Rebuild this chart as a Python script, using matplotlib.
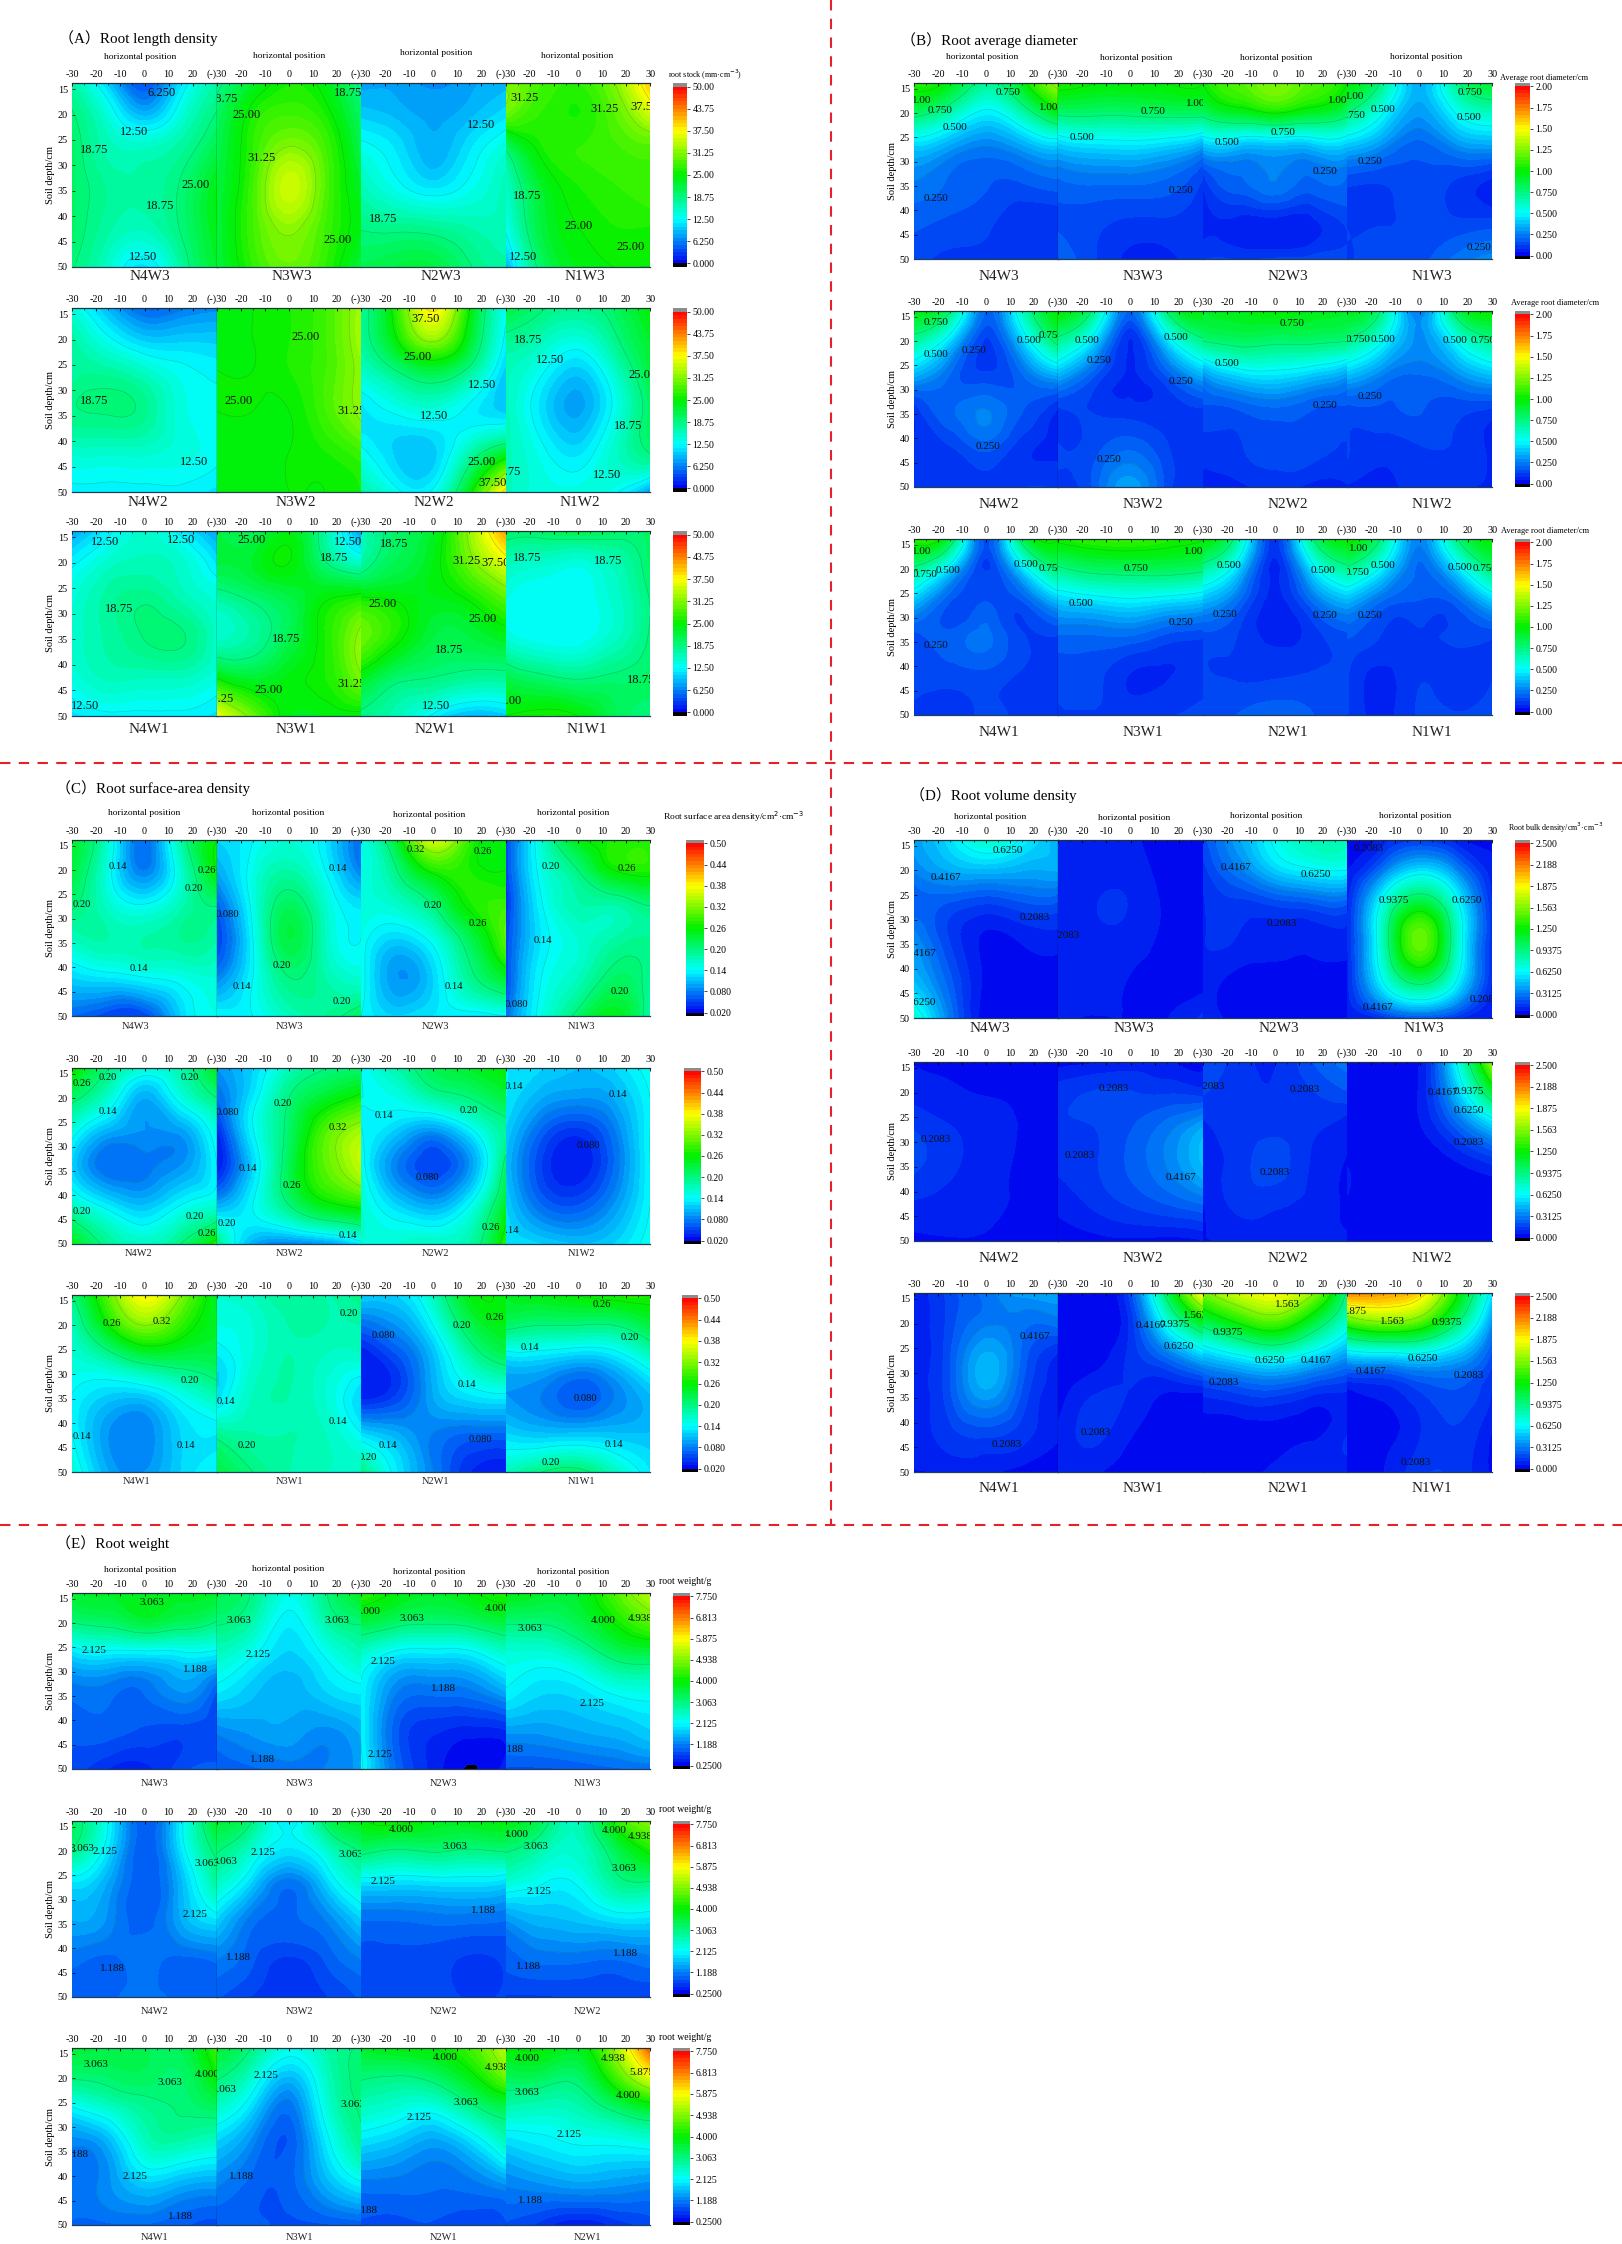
import matplotlib
matplotlib.use("Agg")
import matplotlib.pyplot as plt
import matplotlib.tri as mtri
import numpy as np

from matplotlib.colors import LinearSegmentedColormap
from matplotlib.lines import Line2D

plt.rcParams['font.family'] = ['Liberation Serif', 'Noto Sans CJK SC', 'DejaVu Sans']

W, H = 1622, 2244

# sample positions of the fields
grid_x = [-30, -15, 0, 15, 30]
grid_y = [14, 20, 26, 34, 42, 50]

# (A) root length density, order N4 N3 N2 N1
rld_w3 = [
    [[17,10,4,11,17],[19,14,9,14,19],[20,16,15,17,21],[20,17.5,17,19,24],[20,17,16,19,24],[19,15,11,17,23]],
    [[18,23,26,24,18],[20,26,28,26,20],[21,27,31,28,21],[22,28,35,29,23],[22,28,32,28,24],[22,27,30,27,22]],
    [[8,8,7,8,9],[10,9,8,9,11],[13,11,8.5,11,14],[16,13,11,13,16],[18.5,18,17.5,16.5,16],[21,22,22,19,17]],
    [[31,28,27,31,40],[30,27,26,29,35],[20,26,27,28,29],[15,23,26,27,28],[13,22,25,26,26],[8,20,24,25,25]],
]
rld_w2 = [
    [[14,9,5,6,7],[17,13,10,10,10],[17,17,15,13,12],[18.5,19,18,14,13],[15,15,15,14,13],[12,12,12,12,11]],
    [[24,25,26,28,33],[24,25,26,28,33],[25,25,26,28,32],[25,25,25,28,32],[24,24,25,26,28],[24,24,25,25,26]],
    [[17,27,38,25,13],[17,25,32,23,12],[15,19,22,18,10],[11,13,14,12,10],[13,10,10,16,22],[17,13,13,24,39]],
    [[22,19,18,20,25],[18,16,14,18,23],[16,13,10,15,22],[16,11,8,13,20],[16,13,11,15,19],[16,14,14,13,7]],
]
rld_w1 = [
    [[8,12,15,12,8],[12,15,16,15,11],[14,17,18,16,14],[15,17,19,19,15],[14,16,16,16,14],[11,12,12,12,11]],
    [[22,21,24,17,8],[22,23,25,19,15],[18,20,22,24,25],[15,17,21,26,32],[24,22,24,26,31],[37,30,24,24,24]],
    [[16,20,23,32,42],[17,21,24,30,36],[24,24,24,26,30],[30,26,22,22,24],[24,20,19,18,18],[18,16,12,9,10]],
    [[20,20,21,20,20],[16,15,14,16,20],[14,12.5,12.5,15,19],[14,12.5,12.5,15,19],[21,19,18,19,20],[25,26,25,21,19]],
]

# (B) root average diameter
rad_w3 = [
    [[1.05,.95,.7,.95,1.3],[.8,.65,.47,.65,.95],[.45,.35,.27,.35,.45],[.25,.2,.17,.17,.2],[.18,.16,.14,.09,.09],[.15,.11,.11,.09,.09]],
    [[1.05,1,1,1,1],[.78,.78,.78,.8,.8],[.42,.47,.48,.45,.35],[.2,.22,.22,.2,.12],[.16,.14,.12,.12,.1],[.2,.13,.07,.07,.12]],
    [[1,1.15,1.25,1.15,1],[.8,.92,1,.92,.8],[.42,.42,.42,.42,.42],[.1,.2,.25,.2,.2],[.07,.07,.07,.07,.14],[.12,.12,.13,.14,.14]],
    [[1,.7,.35,.7,.9],[.75,.5,.3,.5,.62],[.42,.3,.2,.3,.35],[.14,.13,.16,.12,.07],[.12,.12,.14,.13,.13],[.12,.14,.15,.22,.27]],
]
rad_w2 = [
    [[.95,.75,.2,.6,1],[.68,.42,.12,.4,.8],[.4,.22,.12,.22,.4],[.1,.2,.25,.17,.08],[.1,.12,.18,.1,.07],[.1,.12,.1,.12,.12]],
    [[1,.7,.2,.75,.98],[.7,.42,.08,.42,.72],[.4,.2,.08,.2,.4],[.12,.12,.1,.1,.12],[.13,.15,.2,.13,.12],[.1,.18,.32,.15,.1]],
    [[.9,.95,1,.95,.9],[.75,.8,.78,.78,.75],[.33,.48,.5,.45,.35],[.16,.17,.2,.17,.16],[.1,.12,.14,.14,.12],[.07,.07,.1,.07,.08]],
    [[.95,.7,.25,.8,1],[.72,.5,.28,.5,.72],[.42,.28,.22,.3,.42],[.15,.16,.17,.14,.12],[.13,.1,.12,.12,.07],[.08,.07,.1,.09,.08]],
]
rad_w1 = [
    [[1.05,.85,.15,.8,1],[.72,.42,.12,.42,.78],[.4,.18,.16,.18,.4],[.15,.18,.22,.13,.12],[.13,.14,.15,.12,.11],[.12,.11,.13,.12,.12]],
    [[1.03,1.08,1.1,1.05,1],[.72,.8,.82,.82,.78],[.42,.47,.5,.47,.42],[.2,.2,.2,.15,.13],[.14,.14,.08,.08,.1],[.12,.12,.12,.12,.14]],
    [[1,.65,.1,.7,1],[.68,.4,.07,.42,.7],[.38,.22,.07,.22,.38],[.15,.12,.07,.1,.15],[.13,.12,.12,.13,.13],[.13,.17,.2,.17,.13]],
    [[1.05,.7,.25,.72,1],[.72,.45,.2,.42,.78],[.38,.22,.17,.2,.42],[.17,.12,.12,.13,.13],[.13,.07,.12,.1,.12],[.13,.07,.13,.13,.15]],
]

# (C) root surface-area density
rsa_w3 = [
    [[.24,.16,.07,.18,.26],[.23,.15,.08,.16,.26],[.21,.16,.13,.17,.21],[.17,.18,.18,.19,.18],[.12,.13,.14,.15,.16],[.07,.05,.05,.12,.15]],
    [[.12,.14,.16,.13,.07],[.1,.15,.18,.14,.08],[.07,.15,.21,.16,.12],[.05,.14,.23,.17,.14],[.08,.14,.2,.18,.16],[.14,.14,.17,.19,.22]],
    [[.15,.24,.36,.28,.26],[.15,.2,.27,.27,.26],[.16,.17,.21,.27,.28],[.15,.12,.15,.22,.3],[.15,.09,.12,.19,.24],[.14,.12,.13,.13,.14]],
    [[.05,.16,.25,.27,.27],[.05,.15,.2,.26,.27],[.04,.14,.18,.19,.21],[.05,.13,.16,.18,.19],[.05,.14,.17,.21,.19],[.07,.15,.21,.25,.18]],
]
rsa_w2 = [
    [[.27,.2,.16,.18,.25],[.21,.16,.1,.15,.2],[.16,.11,.09,.1,.16],[.12,.07,.075,.09,.14],[.17,.13,.11,.14,.16],[.25,.19,.17,.2,.28]],
    [[.09,.12,.17,.2,.21],[.07,.13,.2,.24,.27],[.04,.14,.21,.29,.33],[.03,.12,.22,.3,.35],[.1,.14,.2,.25,.27],[.2,.1,.08,.09,.13]],
    [[.14,.18,.22,.24,.26],[.14,.15,.18,.2,.23],[.14,.12,.1,.14,.19],[.15,.08,.05,.09,.21],[.16,.12,.1,.14,.24],[.16,.16,.17,.18,.28]],
    [[.13,.12,.11,.12,.15],[.13,.1,.09,.1,.14],[.12,.07,.05,.08,.14],[.11,.05,.03,.07,.14],[.12,.07,.06,.09,.14],[.13,.12,.11,.12,.15]],
]
rsa_w1 = [
    [[.2,.3,.38,.32,.24],[.17,.26,.32,.28,.24],[.16,.19,.23,.23,.23],[.14,.12,.12,.15,.18],[.14,.09,.08,.12,.13],[.16,.1,.09,.12,.14]],
    [[.16,.17,.19,.18,.2],[.15,.16,.18,.18,.18],[.13,.16,.18,.17,.17],[.12,.17,.18,.16,.12],[.19,.18,.18,.17,.14],[.23,.2,.18,.17,.17]],
    [[.12,.12,.17,.25,.25],[.07,.09,.14,.22,.25],[.03,.06,.11,.18,.22],[.03,.05,.1,.13,.14],[.12,.1,.08,.07,.07],[.2,.13,.08,.04,.03]],
    [[.24,.25,.26,.27,.27],[.21,.2,.2,.2,.23],[.13,.13,.12,.13,.17],[.09,.08,.06,.08,.11],[.12,.11,.11,.11,.11],[.17,.2,.21,.17,.13]],
]

# (D) root volume density
rvd_w3 = [
    [[.38,.55,.75,.6,.42],[.32,.42,.45,.42,.42],[.22,.22,.18,.22,.22],[.35,.15,.04,.06,.08],[.45,.22,.04,.03,.02],[.75,.3,.02,.02,.02]],
    [[.06,.06,.06,.03,.03],[.07,.08,.08,.03,.03],[.07,.1,.1,.04,.04],[.08,.09,.08,.04,.04],[.06,.07,.05,.04,.03],[.06,.05,.05,.05,.12]],
    [[.18,.4,.65,.8,.8],[.13,.3,.5,.6,.62],[.1,.15,.2,.24,.25],[.1,.1,.08,.07,.08],[.08,.03,.02,.02,.02],[.08,.03,.02,.02,.02]],
    [[.05,.08,.15,.08,.05],[.05,.3,.55,.35,.07],[.08,.65,1.05,.65,.1],[.1,.8,1.5,.8,.12],[.08,.65,1.05,.65,.1],[.05,.12,.2,.12,.05]],
]
rvd_w2 = [
    [[.05,.05,.05,.05,.05],[.08,.06,.05,.05,.05],[.14,.1,.07,.05,.05],[.17,.12,.07,.05,.05],[.1,.08,.06,.05,.05],[.04,.05,.05,.05,.05]],
    [[.03,.05,.08,.06,.04],[.13,.16,.16,.15,.13],[.15,.16,.2,.27,.38],[.12,.15,.22,.32,.48],[.07,.12,.17,.22,.28],[.02,.03,.04,.03,.05]],
    [[.2,.13,.1,.2,.28],[.16,.12,.11,.15,.2],[.1,.12,.13,.12,.08],[.08,.13,.18,.1,.05],[.05,.12,.12,.09,.04],[.05,.06,.08,.07,.06]],
    [[.03,.03,.05,.6,1.6],[.03,.03,.06,.45,1.1],[.03,.03,.05,.25,.55],[.05,.03,.02,.05,.12],[.05,.03,.02,.02,.02],[.03,.02,.02,.02,.02]],
]
rvd_w1 = [
    [[.07,.18,.28,.38,.4],[.07,.18,.3,.28,.28],[.08,.2,.42,.25,.1],[.08,.2,.4,.2,.08],[.07,.14,.18,.13,.06],[.05,.06,.06,.03,.02]],
    [[.01,.01,.18,1,1.9],[.01,.01,.12,.65,1.15],[.01,.02,.12,.3,.55],[.02,.1,.1,.05,.05],[.06,.12,.06,.02,.02],[.06,.06,.02,.02,.02]],
    [[1.5,1.75,1.85,1.6,.9],[1,1.25,1.4,1.1,.7],[.5,.65,.75,.6,.4],[.12,.16,.18,.12,.1],[.03,.03,.04,.04,.1],[.05,.04,.06,.08,.08]],
    [[2.15,2.1,1.95,1.3,.55],[1.35,1.5,1.4,.95,.35],[.55,.6,.62,.48,.2],[.03,.07,.15,.2,.1],[.03,.03,.1,.15,.05],[.04,.05,.14,.14,.04]],
]

# (E) root weight
rw_w3 = [
    [[3.6,3.7,3.8,3.7,3.7],[3.05,3.2,3.5,3.3,3],[1.9,2.05,2.05,2.1,2.05],[1.1,1.1,1.05,1.35,.85],[.9,.95,.85,.8,.75],[.85,.55,.5,.8,.9]],
    [[3.4,3,2.3,3,3.8],[3.1,2.7,2,2.7,3.1],[2.6,2.2,1.8,2.2,2.7],[2,1.7,1.55,1.8,2],[1.25,1.4,1.45,1.3,1.55],[.9,1,1.1,1.2,1.4]],
    [[4.3,3.9,3.7,3.9,4.2],[3.5,3.2,3.1,3.2,3.5],[2.5,2.05,2,2.05,2.5],[2.1,1.2,1.1,1.15,1.5],[2.1,.9,.6,.5,.55],[2.2,1,.5,.24,.5]],
    [[3.9,3.7,3.7,4.5,5.3],[3.1,3.1,3.4,4,4.6],[2.4,2.4,2.7,3.3,3.5],[2.1,1.85,1.9,2.2,2.3],[1.4,1.4,1.5,1.6,1.8],[.85,.85,.9,1,1.05]],
]
rw_w2 = [
    [[3.3,2.1,.9,2,3.8],[3,1.9,.9,1.9,3.2],[2,1.5,.9,1.6,2.9],[1.5,1.3,.95,1.5,1.95],[1.1,1,1.1,1,1.1],[1,1,1.1,1,1]],
    [[3.6,3,2,3.2,3.8],[3.1,2.4,1.9,2.4,3.1],[2.6,1.8,1.15,1.8,2.6],[1.8,1.1,1,1.2,1.8],[1.2,.9,.7,.9,1.2],[.9,.7,.6,.7,.9]],
    [[3.9,4.1,3.8,3.8,3.9],[3.2,3,3.1,3,3.1],[2,1.95,2,2,1.9],[1.05,1.05,1.1,1.1,1.05],[.85,.85,.8,.7,.75],[.85,.8,.8,.7,.75]],
    [[3.9,3.3,2.6,4.1,4.9],[3.1,2.7,2.5,3.3,4.1],[2.5,2.2,2.2,2.9,3.1],[1.35,1.6,1.7,1.9,1.9],[.95,1.1,1.1,1.05,1.15],[.7,.7,.75,.75,.7]],
]
rw_w1 = [
    [[3.6,3.5,3.4,3.4,4.4],[3.1,3.2,3.3,3.2,4],[2.1,2.5,2.9,3.1,3.3],[1.2,1.5,2.5,2.6,2.4],[1.1,1.3,1.7,1.5,1.4],[1,1,1,.9,.8]],
    [[3.6,3,2.3,2.7,3.1],[3.1,2.4,1.6,2.5,3.2],[2.5,1.8,1.1,2.3,3.1],[1.7,1.2,.9,1.9,2.9],[1.2,.95,.95,1.5,2],[.9,.9,.85,.85,.9]],
    [[3.7,3.9,4,4.4,5.3],[3.1,3,3.2,3.8,4.7],[2.6,2.4,2.3,2.9,3.4],[1.8,1.6,1.35,1.7,2.5],[1.1,1.1,1.05,1.1,1.3],[.85,.8,.85,.75,.85]],
    [[3.9,4,3.8,5,7],[3.3,3.3,3.2,4.3,5.6],[2.7,2.6,2.7,3.2,3.7],[1.75,1.95,2.1,2.1,2.2],[1.2,1.3,1.4,1.35,1.25],[.85,.65,.4,.6,.8]],
]

# colour bar scales
rld_ticks = ["0.000", "6.250", "12.50", "18.75", "25.00", "31.25", "37.50", "43.75", "50.00"]
rad_ticks = ["0.00", "0.250", "0.500", "0.750", "1.00", "1.25", "1.50", "1.75", "2.00"]
rsa_ticks = ["0.020", "0.080", "0.14", "0.20", "0.26", "0.32", "0.38", "0.44", "0.50"]
rvd_ticks = ["0.000", "0.3125", "0.6250", "0.9375", "1.250", "1.563", "1.875", "2.188", "2.500"]
rw_ticks = ["0.2500", "1.188", "2.125", "3.063", "4.000", "4.938", "5.875", "6.813", "7.750"]

# contour labels: x, depth, text
rld_lab_w3 = [
    [(7,15.7,"6.250"),(-4.4,23.4,"12.50"),(-20.7,27,"18.75"),(21,33.8,"25.00"),(6.4,38,"18.75"),(-.5,48,"12.50")],
    [(-27,17,"18.75"),(-17.7,20,"25.00"),(-11.6,28.5,"31.25"),(20.4,44.7,"25.00"),(24.7,15.7,"18.75")],
    [(20,22,"12.50"),(-21,40.5,"18.75")],
    [(-22,16.7,"31.25"),(11,19,"31.25"),(27.6,18.5,"37.50"),(-21,36,"18.75"),(.5,42,"25.00"),(22,46,"25.00"),(-22.6,48,"12.50")],
]
rld_lab_w2 = [
    [(-20.7,32,"18.75"),(20.4,44,"12.50")],
    [(7,19.5,"25.00"),(-21,32,"25.00"),(26,34,"31.25")],
    [(-3,16,"37.50"),(-6.7,23.4,"25.00"),(20.4,29,"12.50"),(.5,35,"12.50"),(20,44,"25.00"),(24.5,48.3,"37.50")],
    [(-20.5,20,"18.75"),(-11.6,24,"12.50"),(27,27,"25.00"),(21,37,"18.75"),(-29.5,46,"18.75"),(12,46.7,"12.50")],
]
rld_lab_w1 = [
    [(-16.4,16,"12.50"),(15,15.6,"12.50"),(-10.7,29,"18.75"),(-24.5,48,"12.50")],
    [(-15.6,15.6,"25.00"),(24.7,16,"12.50"),(19,19,"18.75"),(-1.4,35,"18.75"),(26,43.8,"31.25"),(-29,46.6,"31.25"),(-8.6,45,"25.00")],
    [(-16.4,16.3,"18.75"),(14,19.6,"31.25"),(26,20,"37.50"),(-21,28,"25.00"),(20.4,31,"25.00"),(6.4,37,"18.75"),(1,48,"12.50")],
    [(-21,19,"18.75"),(12.8,19.6,"18.75"),(26.5,43,"18.75"),(-29,47,"25.00")],
]
rad_lab_w3 = [
    [(-26.6,17.5,"1.00"),(-19,19.4,"0.750"),(9,15.8,"0.750"),(-12.8,23,"0.500"),(26,18.8,"1.00"),(-21,37.6,"0.250")],
    [(9.5,19.7,"0.750"),(-20,25,"0.500"),(27,18,"1.00"),(21,36,"0.250")],
    [(3.4,23.9,"0.750"),(-20,26,"0.500"),(26,17.5,"1.00"),(21,32,"0.250")],
    [(-27,16.6,"1.00"),(-15.3,19.3,"0.500"),(-27.5,20.5,"0.750"),(-20.6,29.9,"0.250"),(21,15.7,"0.750"),(20.4,20.8,"0.500"),(24.5,47.6,"0.250")],
]
rad_lab_w2 = [
    [(-21,16.2,"0.750"),(-21,22.8,"0.500"),(-5,22,"0.250"),(18,19.8,"0.500"),(27,18.8,"0.750"),(1,41.6,"0.250")],
    [(-18,19.8,"0.500"),(-13,24,"0.250"),(19,19.2,"0.500"),(21,28.4,"0.250"),(-9,44.4,"0.250")],
    [(7,16.4,"0.750"),(-20,24.7,"0.500"),(21,33.3,"0.250")],
    [(-25.5,19.7,"0.750"),(-15,19.7,"0.500"),(-20.6,31.3,"0.250"),(14.5,19.8,"0.500"),(26.5,19.8,"0.750")],
]
rad_lab_w1 = [
    [(-26.6,16.4,"1.00"),(-25.5,21,"0.750"),(-16,20.3,"0.500"),(-21,35.8,"0.250"),(16.6,19,"0.500"),(27,19.8,"0.750")],
    [(26,16.3,"1.00"),(2.5,19.9,"0.750"),(-20.4,27,"0.500"),(21,30.9,"0.250")],
    [(-19,19.3,"0.500"),(20,20.2,"0.500"),(-21,29.3,"0.250"),(21,29.5,"0.250")],
    [(-25,15.7,"1.00"),(-26,20.7,"0.750"),(-15,19.3,"0.500"),(-20.6,29.6,"0.250"),(16.6,19.7,"0.500"),(27,19.9,"0.750")],
]
rsa_lab_w3 = [
    [(-11,19.3,"0.14"),(26,20.1,"0.26"),(20.3,23.8,"0.20"),(-26,27,"0.20"),(-2.3,40.3,"0.14")],
    [(20.5,19.7,"0.14"),(-25.5,29.2,"0.080"),(-3,39.7,"0.20"),(-19.7,44,"0.14"),(22,47,"0.20")],
    [(-7.4,15.7,"0.32"),(20.5,16.2,"0.26"),(0,27.3,"0.20"),(18.6,31,"0.26"),(8.5,44,"0.14")],
    [(-11.3,19.3,"0.20"),(20.5,19.7,"0.26"),(-14.6,34.5,"0.14"),(17.3,45,"0.20"),(-25.6,47.6,"0.080")],
]
rsa_lab_w2 = [
    [(-26,17,"0.26"),(-15,15.8,"0.20"),(18.8,15.8,"0.20"),(-15,22.8,"0.14"),(-26,43.4,"0.20"),(20.8,44.4,"0.20"),(26,47.8,"0.26")],
    [(-25.6,22.9,"0.080"),(-2.6,21.2,"0.20"),(20.5,26,"0.32"),(-17,34.5,"0.14"),(1,37.9,"0.26"),(-26,45.7,"0.20"),(24.5,48.3,"0.14")],
    [(-20.5,23.6,"0.14"),(14.6,22.5,"0.20"),(-2.3,36.3,"0.080"),(24,46.6,"0.26")],
    [(-26.7,17.6,"0.14"),(16.8,19.3,"0.14"),(4.5,29.8,"0.080"),(-28,47.3,"0.14")],
]
rsa_lab_w1 = [
    [(-13.3,19.7,"0.26"),(7,19.3,"0.32"),(18.6,31.2,"0.20"),(-26,42.7,"0.14"),(17,44.6,"0.14")],
    [(24.8,17.5,"0.20"),(-26.3,35.6,"0.14"),(20.5,39.6,"0.14"),(-17.5,44.6,"0.20")],
    [(25.6,18.3,"0.26"),(-20.5,22,"0.080"),(12,20,"0.20"),(14,32.2,"0.14"),(19.7,43.3,"0.080"),(-18.8,44.5,"0.14"),(-27,47,"0.20")],
    [(10,15.7,"0.26"),(21.6,22.5,"0.20"),(-20,24.6,"0.14"),(3,35,"0.080"),(15,44.3,"0.14"),(-11,48,"0.20")],
]
rvd_lab_w3 = [
    [(9,16,"0.6250"),(-16.6,21.4,"0.4167"),(20.4,29.5,"0.2083"),(-27,36.8,"0.4167"),(-27,46.8,"0.6250")],
    [(-27,33.2,"0.2083")],
    [(-16.3,19.3,"0.4167"),(17,20.8,"0.6250"),(3,30.8,"0.2083")],
    [(-21,15.6,"0.2083"),(-10.8,26.2,"0.9375"),(19.4,26.2,"0.6250"),(-17,47.8,"0.4167"),(27,46.3,"0.2083")],
]
rvd_lab_w2 = [
    [(-21,29.4,"0.2083")],
    [(-6.8,19.1,"0.2083"),(-20.9,32.7,"0.2083"),(20.8,37.1,"0.4167")],
    [(-27,18.8,"0.2083"),(12.5,19.3,"0.2083"),(-.2,36.1,"0.2083")],
    [(9.8,20,"0.4167"),(20.4,19.7,"0.9375"),(20.4,23.6,"0.6250"),(20.4,30,"0.2083")],
]
rvd_lab_w1 = [
    [(20.4,22.6,"0.4167"),(8.5,44.5,"0.2083")],
    [(8.3,20.4,"0.4167"),(18.5,20.2,"0.9375"),(27,18.4,"1.563"),(20,24.6,"0.6250"),(-14.5,42,"0.2083")],
    [(5.3,16.2,"1.563"),(-19.8,21.7,"0.9375"),(-2.1,27.5,"0.6250"),(17,27.5,"0.4167"),(-21.4,32,"0.2083")],
    [(-27,17.6,"1.875"),(-11,19.5,"1.563"),(11.3,19.7,"0.9375"),(1.3,27,"0.6250"),(-20,29.7,"0.4167"),(20.4,30.4,"0.2083"),(-1.5,48,"0.2083")],
]
rw_lab_w3 = [
    [(3,15.7,"3.063"),(-21,25.6,"2.125"),(21,29.6,"1.188")],
    [(-21,19.5,"3.063"),(20,19.5,"3.063"),(-13,26.5,"2.125"),(-11,48,"1.188")],
    [(-27,17.7,"4.000"),(-9,19,"3.063"),(26.5,17,"4.000"),(-21,27.8,"2.125"),(4.3,33.5,"1.188"),(-22.3,47,"2.125")],
    [(-20,21,"3.063"),(10.6,19.5,"4.000"),(26,19,"4.938"),(6,36.5,"2.125"),(-27.5,46,"1.188")],
]
rw_lab_w2 = [
    [(-26,19.5,"3.063"),(-16.4,20,"2.125"),(26,22.5,"3.063"),(20.8,33,"2.125"),(-13.3,44.2,"1.188")],
    [(-26.5,22.2,"3.063"),(-10.7,20.2,"2.125"),(26,20.6,"3.063"),(-21,41.8,"1.188")],
    [(-13.3,15.5,"4.000"),(8.9,19,"3.063"),(-21,26.2,"2.125"),(20.8,32.2,"1.188")],
    [(-25.6,16.6,"4.000"),(-17.2,19,"3.063"),(15,15.7,"4.000"),(26,17,"4.938"),(19,23.6,"3.063"),(-16,28.2,"2.125"),(20,41,"1.188"),(-20.5,43.7,"1.188")],
]
rw_lab_w1 = [
    [(-20,17.2,"3.063"),(26,19.2,"4.000"),(10.4,20.8,"3.063"),(-28,35.6,"1.188"),(-3.8,40,"2.125"),(15,48.2,"1.188")],
    [(-27,22.3,"3.063"),(-9.6,19.4,"2.125"),(26.5,25.3,"3.063"),(-20,40,"1.188")],
    [(5,15.8,"4.000"),(26.5,17.7,"4.938"),(13.5,25,"3.063"),(-6,28,"2.125"),(-28,47,"1.188")],
    [(-20.8,16,"4.000"),(14.6,16,"4.938"),(26.5,18.9,"5.875"),(-21,23,"3.063"),(21,23.5,"4.000"),(-3.6,31.5,"2.125"),(-19.5,45,"1.188")],
]

cmap = LinearSegmentedColormap.from_list("origin_rainbow", ["#0000f0", "#00ffff", "#00f000", "#ffff00", "#ff0000"], N=256)
cmap.set_under("black")
cmap.set_over("#8c8c8c")

xs, ys = np.meshgrid(grid_x, grid_y)
triang = mtri.Triangulation(xs.ravel(), ys.ravel())
refiner = mtri.UniformTriRefiner(triang)


def px_axes(left, top, right, bottom):
    return plt.axes([left / W, 1 - bottom / H, (right - left) / W, (bottom - top) / H])


def put_text(x, y, s, **kw):
    plt.gcf().text(x / W, 1 - y / H, s, ha=kw.pop("ha", "center"), va=kw.pop("va", "center"), **kw)


def draw_row(grids, labels, ticks, edges, top, bottom, cb_x, names, name_y, name_x, name_size, lab_size):
    """One row of four fields side by side, plus its colour bar."""
    major = np.array([float(t) for t in ticks])
    fine = np.linspace(major[0], major[-1], 49)
    mappable = None

    for i, grid in enumerate(grids):
        ax = px_axes(edges[i], top, edges[i + 1], bottom)
        raw = np.array(grid, dtype=float)
        interp = mtri.CubicTriInterpolator(triang, raw.ravel(), kind="min_E")
        tri_f, z_f = refiner.refine_field(raw.ravel(), triinterpolator=interp, subdiv=4)
        z_f = np.clip(z_f, raw.min(), None)
        mappable = ax.tricontourf(tri_f, z_f, levels=fine, cmap=cmap, extend="both")
        ax.tricontour(tri_f, z_f, levels=major, colors="#1f5a3c", linewidths=0.4, alpha=0.35)

        ax.set_xlim(-30, 30)
        ax.set_ylim(50, 13.8)
        ax.set_xticks(np.arange(-30, 31, 10))
        tick_text = ["-30", "-20", "-10", "0", "10", "20", ""]
        if i > 0:
            tick_text[0] = "(-)30"
        if i == 3:
            tick_text[-1] = "30"
        ax.set_xticklabels(tick_text, fontsize=7.3)
        ax.xaxis.tick_top()
        ax.tick_params(axis="x", direction="in", length=2.5, width=0.6, pad=3)
        ax.set_xticks(np.arange(-25, 30, 10), minor=True)
        ax.tick_params(axis="x", which="minor", direction="in", length=1.5, width=0.4)
        if i == 0:
            ax.set_yticks(np.arange(15, 51, 5))
            ax.tick_params(axis="y", direction="in", length=2, width=0.5, labelsize=7.3, pad=3)
        else:
            ax.set_yticks([])

        for side in ["left", "right"]:
            ax.spines[side].set_visible(False)
        ax.spines["top"].set_linewidth(0.9)
        ax.spines["top"].set_color("#20303a")
        ax.spines["bottom"].set_linewidth(0.9)
        ax.spines["bottom"].set_color("#20405a")
        if i == 0:
            ax.spines["right"].set_visible(True)
            ax.spines["right"].set_linewidth(0.9)

        for x, y, s in labels[i]:
            ax.text(x, y, s, fontsize=lab_size, ha="center", va="center", color="#101010", clip_on=True)

        put_text(name_x[i], name_y, names[i], fontsize=name_size, color="#222222")

    cax = px_axes(cb_x[0], top, cb_x[1], bottom)
    cb = plt.gcf().colorbar(mappable, cax=cax, extend="both", extendfrac=0.02, extendrect=True)
    cb.set_ticks(major, labels=ticks)
    cb.minorticks_off()
    cb.outline.set_visible(False)
    cb.ax.tick_params(length=2, width=0.5, labelsize=7, pad=2)

    put_text(edges[0] - 21, (top + bottom) / 2, "Soil depth/cm", rotation=90, fontsize=7.5)


fig = plt.figure(figsize=(W / 100, H / 100), dpi=100)

left_edges = [72, 217, 361, 505.5, 650]
right_edges = [914, 1058, 1203, 1347, 1492]


def row_names(row, last="N1"):
    return [f"N4{row}", f"N3{row}", f"N2{row}", f"{last}{row}"]


# panel A
a_x = [150, 292, 441, 585]
draw_row(rld_w3, rld_lab_w3, rld_ticks, left_edges, 83, 267, (673, 687), row_names("W3"), 277, a_x, 11, 9)
draw_row(rld_w2, rld_lab_w2, rld_ticks, left_edges, 308, 492, (673, 687), row_names("W2"), 503, [148, 296, 434, 580], 11, 9)
draw_row(rld_w1, rld_lab_w1, rld_ticks, left_edges, 531, 716, (673, 687), row_names("W1"), 729, [149, 296, 435, 587], 11, 9)

# panel B
b_x = [999, 1143, 1288, 1432]
draw_row(rad_w3, rad_lab_w3, rad_ticks, right_edges, 83, 259, (1515, 1530), row_names("W3"), 277, b_x, 11, 8)
draw_row(rad_w2, rad_lab_w2, rad_ticks, right_edges, 311, 487, (1515, 1530), row_names("W2"), 505, b_x, 11, 8)
draw_row(rad_w1, rad_lab_w1, rad_ticks, right_edges, 539, 715, (1515, 1530), row_names("W1"), 733, b_x, 11, 8)

# panel C
c_x = [136, 290, 436, 581]
draw_row(rsa_w3, rsa_lab_w3, rsa_ticks, left_edges, 840, 1016, (686, 704), row_names("W3"), 1026, c_x, 7.5, 7.6)
draw_row(rsa_w2, rsa_lab_w2, rsa_ticks, left_edges, 1068, 1244, (684, 701), row_names("W2"), 1254, [139, 290, 436, 581], 7.5, 7.6)
draw_row(rsa_w1, rsa_lab_w1, rsa_ticks, left_edges, 1295, 1472, (682, 698), row_names("W1"), 1482, [137, 290, 436, 581], 7.5, 7.6)

# panel D
draw_row(rvd_w3, rvd_lab_w3, rvd_ticks, right_edges, 840, 1018, (1515, 1530), row_names("W3"), 1029, [990, 1134, 1279, 1424], 11, 8)
draw_row(rvd_w2, rvd_lab_w2, rvd_ticks, right_edges, 1062, 1241, (1515, 1530), row_names("W2"), 1258, b_x, 11, 8)
draw_row(rvd_w1, rvd_lab_w1, rvd_ticks, right_edges, 1293, 1472, (1515, 1530), row_names("W1"), 1489, b_x, 11, 8)

# panel E
e_x = [155, 299, 443, 588]
draw_row(rw_w3, rw_lab_w3, rw_ticks, left_edges, 1593, 1769, (673, 690), row_names("W3"), 1784, e_x, 7.5, 8)
draw_row(rw_w2, rw_lab_w2, rw_ticks, left_edges, 1821, 1997, (673, 690), row_names("W2", "N2"), 2012, e_x, 7.5, 8)
draw_row(rw_w1, rw_lab_w1, rw_ticks, left_edges, 2048, 2225, (673, 690), row_names("W1", "N2"), 2238, e_x, 7.5, 8)

# panel titles
put_text(59, 38, "（A）Root length density", ha="left", fontsize=10.8)
put_text(901, 40, "（B）Root average diameter", ha="left", fontsize=10.8)
put_text(56, 788, "（C）Root surface-area density", ha="left", fontsize=10.8)
put_text(910, 795, "（D）Root volume density", ha="left", fontsize=10.8)
put_text(56, 1543, "（E）Root weight", ha="left", fontsize=10.8)

# axis captions above each panel
for x, y in [(140, 57), (289, 56), (436, 53), (577, 56),
             (982, 57), (1136, 58), (1276, 58), (1426, 57),
             (144, 813), (288, 813), (429, 815), (573, 813),
             (990, 817), (1134, 818), (1266, 816), (1415, 816),
             (140, 1570), (288, 1569), (429, 1572), (573, 1572)]:
    put_text(x, y, "horizontal position", fontsize=6.8)

# colour bar captions
put_text(668, 75, "root stock (mm·cm$^{-3}$)", ha="left", fontsize=5.8)
put_text(1500, 78, "Average root diameter/cm", ha="left", fontsize=6)
put_text(1511, 303, "Average root diameter/cm", ha="left", fontsize=6)
put_text(1501, 531, "Average root diameter/cm", ha="left", fontsize=6)
put_text(663, 817, "Root surface area density/cm$^{2}$·cm$^{-3}$", ha="left", fontsize=6.8)
put_text(1508, 828, "Root bulk density/cm$^{3}$·cm$^{-3}$", ha="left", fontsize=5.8)
put_text(659, 1582, "root weight/g", ha="left", fontsize=7)
put_text(659, 1810, "root weight/g", ha="left", fontsize=7)
put_text(659, 2038, "root weight/g", ha="left", fontsize=7)

# red separators
for xd, yd in [((0, W), (763, 763)), ((0, W), (1525, 1525)), ((831, 831), (0, 1525))]:
    fig.add_artist(Line2D([xd[0] / W, xd[1] / W], [1 - yd[0] / H, 1 - yd[1] / H],
                          color="#e8202a", lw=1.5, linestyle=(0, (5, 4))))

fig.savefig("out.png", dpi=100)
